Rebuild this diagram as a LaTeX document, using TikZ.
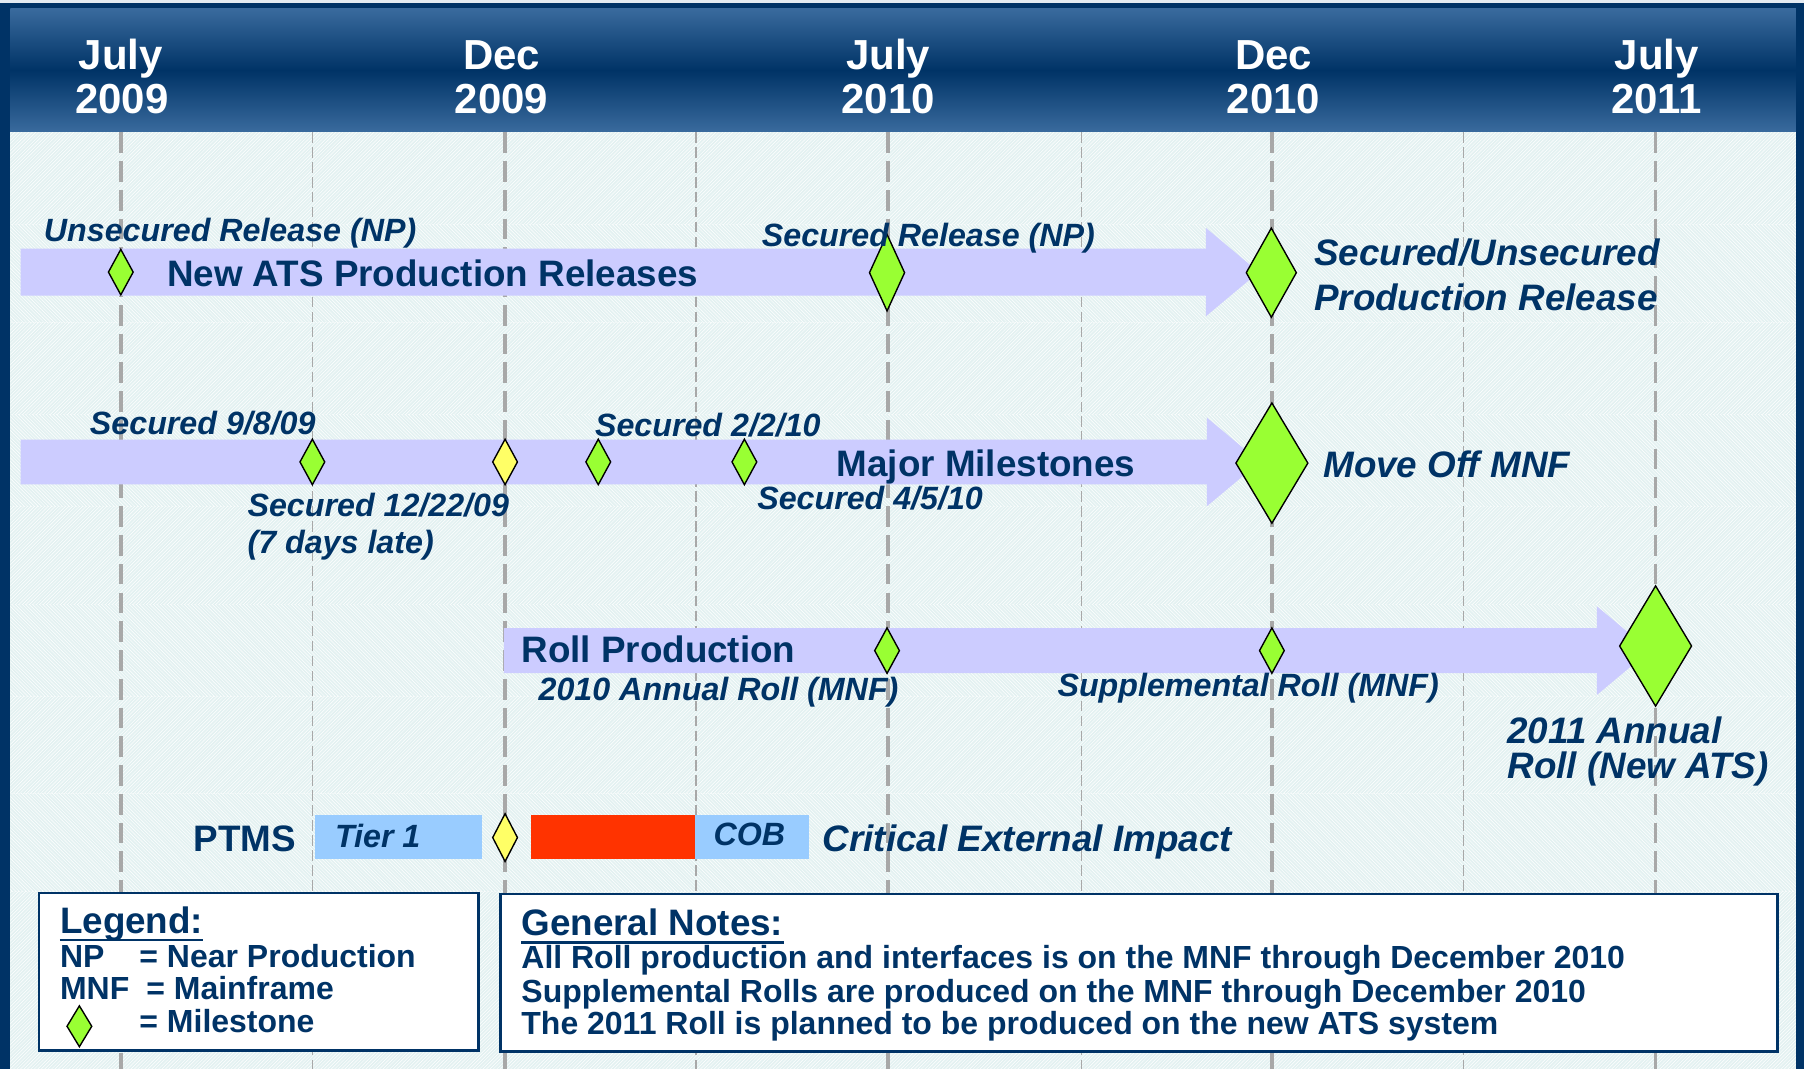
\documentclass[tikz,border=0pt]{standalone}
\usepackage{fontspec}
\setmainfont{Liberation Sans}
\usetikzlibrary{shapes.geometric,patterns}
\definecolor{navy}{HTML}{003366}
\definecolor{steel}{HTML}{3A6B9E}
\definecolor{lav}{HTML}{CCCCFF}
\definecolor{msgreen}{HTML}{99FF33}
\definecolor{msyellow}{HTML}{FFFF66}
\definecolor{critred}{HTML}{FF3300}
\definecolor{tierblue}{HTML}{99CCFF}
\definecolor{bgcyan}{HTML}{E3F1F1}
\definecolor{gridgrey}{HTML}{A8A8A8}
\definecolor{paper}{HTML}{E4EBF2}
\newcommand\FtHead{\fontsize{36.5}{40}\selectfont}
\newcommand\FtBig{\fontsize{32}{36}\selectfont}
\newcommand\FtSmall{\fontsize{28}{32}\selectfont}
\newcommand\FtNote{\fontsize{27.8}{32}\selectfont}
\begin{document}
\begin{tikzpicture}[x=1pt,y=-1pt,
  hdr/.style={inner sep=0, anchor=base, text=white, font=\FtHead\bfseries},
  lbl/.style={inner sep=0, anchor=base west, text=navy, font=\FtSmall\bfseries\itshape},
  biglbl/.style={inner sep=0, anchor=base west, text=navy, font=\FtBig\bfseries\itshape},
  rowtitle/.style={inner sep=0, anchor=base west, text=navy, font=\FtBig\bfseries},
  notetext/.style={inner sep=0, anchor=base west, text=navy, font=\FtNote\bfseries},
  ms/.style 2 args={diamond, draw=black, line width=1.2, fill=msgreen, minimum width=#1, minimum height=#2, inner sep=0},
  msy/.style 2 args={ms={#1}{#2}, fill=msyellow},
  majorline/.style={draw=gridgrey, line width=3, dash pattern=on 18 off 7},
  minorline/.style={draw=gridgrey, line width=1.5, dash pattern=on 9 off 4},
  blockarrow/.style={fill=lav},
  infobox/.style={draw=navy, line width=2, fill=white},
  ptmsbox/.style={inner sep=0, minimum height=38, anchor=north west},
]
\useasboundingbox (0,0) rectangle (1568,929);
% frame and background
\fill[paper] (0,0) rectangle (1568,929);
\fill[navy] (0,2.6) rectangle (1568,929);
\shade[top color=steel, bottom color=steel, middle color=navy] (9,7) rectangle (1561,115);
\fill[bgcyan] (9,115) rectangle (1561,929);
\foreach \ya/\yb/\pat in {115/195/north east lines,195/280/north west lines,280/360/north east lines,360/440/north west lines,440/525/north east lines,525/605/north west lines,605/690/north east lines,690/775/north west lines,775/929/north east lines}
  \fill[pattern=\pat, pattern color=white] (9,\ya) rectangle (1561,\yb);
% grid lines
\foreach \gx in {105,439,772,1105.5,1439}
  \draw[majorline] (\gx,115) -- (\gx,929);
\foreach \gx in {271.5,605,940,1272}
  \draw[minorline] (\gx,115) -- (\gx,929);
% header
\node[hdr] (h1a) at (105,60) {July};
\node[hdr] (h1b) at (106,99) {2009};
\node[hdr] (h2a) at (436,60) {Dec};
\node[hdr] (h2b) at (436,99) {2009};
\node[hdr] (h3a) at (772,60) {July};
\node[hdr] (h3b) at (772,99) {2010};
\node[hdr] (h4a) at (1107,60) {Dec};
\node[hdr] (h4b) at (1107,99) {2010};
\node[hdr] (h5a) at (1440,60) {July};
\node[hdr] (h5b) at (1440,99) {2011};
% block arrows
\fill[blockarrow] (18,216) -- (1048,216) -- (1048,198) -- (1094,236.5) -- (1048,275) -- (1048,257) -- (18,257) -- cycle;
\fill[blockarrow] (18,382) -- (1049,382) -- (1049,363) -- (1095,401.5) -- (1049,440) -- (1049,421) -- (18,421) -- cycle;
\fill[blockarrow] (438,546) -- (1388,546) -- (1388,527) -- (1434,565.5) -- (1388,604) -- (1388,585) -- (438,585) -- cycle;
% row 1
\node[ms={22}{40}] (d1a) at (105,236.5) {};
\node[ms={31}{67}] (d1b) at (771,237) {};
\node[ms={44}{78}] (d1c) at (1105,237) {};
\node[lbl] (t1a) at (38,210) {Unsecured Release (NP)};
\node[rowtitle] (t1b) at (145,249) {New ATS Production Releases};
\node[lbl] (t1c) at (662,214) {Secured Release (NP)};
\node[biglbl] (t1d) at (1142,231) {Secured/Unsecured};
\node[biglbl] (t1e) at (1142,270) {Production Release};
% row 2
\node[ms={22}{40}] (d2a) at (271.5,401.5) {};
\node[msy={22}{40}] (d2b) at (439,401.5) {};
\node[ms={22}{40}] (d2c) at (520,401.5) {};
\node[ms={22}{40}] (d2d) at (647,401.5) {};
\node[ms={63}{105}] (d2e) at (1105.5,402.5) {};
\node[lbl] (t2a) at (78,378) {Secured 9/8/09};
\node[lbl] (t2b) at (215,449) {Secured 12/22/09};
\node[lbl] (t2c) at (215,481) {(7 days late)};
\node[lbl] (t2d) at (517,379) {Secured 2/2/10};
\node[lbl] (t2e) at (658,443) {Secured 4/5/10};
\node[rowtitle] (t2f) at (727,414) {Major Milestones};
\node[biglbl] (t2g) at (1150,415) {Move Off MNF};
% row 3
\node[ms={22}{40}] (d3a) at (771,565.5) {};
\node[ms={22}{40}] (d3b) at (1105.5,565.5) {};
\node[ms={63}{105}] (d3c) at (1439,561.5) {};
\node[rowtitle] (t3a) at (453,576) {Roll Production};
\node[lbl] (t3b) at (468,609) {2010 Annual Roll (MNF)};
\node[lbl] (t3c) at (919,605) {Supplemental Roll (MNF)};
\node[biglbl] (t3d) at (1310,646) {2011 Annual};
\node[biglbl] (t3e) at (1310,677) {Roll (New ATS)};
% row 4 PTMS
\node[rowtitle] (t4a) at (168,740) {PTMS};
\node[ptmsbox, fill=tierblue, minimum width=145] (tier) at (274,708) {};
\node[lbl] (tiert) at (291,737) {Tier 1};
\node[msy={22}{42}] (d4a) at (439,728) {};
\node[ptmsbox, fill=critred, minimum width=143] (crit) at (461,708) {};
\node[ptmsbox, fill=tierblue, minimum width=99] (cob) at (604,708) {};
\node[lbl] (cobt) at (620,735) {COB};
\node[biglbl] (t4b) at (715,740) {Critical External Impact};
% legend
\draw[infobox] (34,776) rectangle (416,913);
\node[rowtitle] (leg) at (52,811) {Legend:};
\draw[navy, line width=2.5] ([yshift=-6]leg.base west) -- ([yshift=-6]leg.base east);
\node[notetext] (lnp) at (52,841) {NP};
\node[notetext] (lnpd) at (121,841) {= Near Production};
\node[notetext] (lmnf) at (52,869) {MNF};
\node[notetext] (lmnfd) at (127,869) {= Mainframe};
\node[ms={22}{36}] (lms) at (69,892) {};
\node[notetext] (lmsd) at (121,897) {= Milestone};
% general notes
\draw[infobox] (435,777) rectangle (1545,914);
\node[rowtitle] (gn) at (453,813) {General Notes:};
\draw[navy, line width=2.5] ([yshift=-6]gn.base west) -- ([yshift=-6]gn.base east);
\node[notetext] (gn1) at (453,842) {All Roll production and interfaces is on the MNF through December 2010};
\node[notetext] (gn2) at (453,871) {Supplemental Rolls are produced on the MNF through December 2010};
\node[notetext] (gn3) at (453,899) {The 2011 Roll is planned to be produced on the new ATS system};
\end{tikzpicture}
\end{document}
